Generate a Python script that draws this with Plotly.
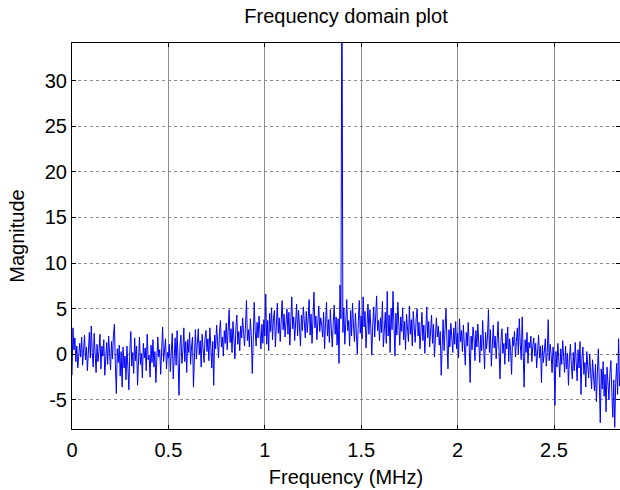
import numpy as np
import plotly.graph_objects as go

# frequency bin spacing (MHz) and magnitudes
df_mhz = 0.005
magnitude = [
    -2.3, 2.9, 0.5, 1.8, -0.8, 0.9, -1.5, 0.6, 1.2, -0.3, 1.9, -1.2, 0.4, 2.1, -0.6, 0.8, -1.8, 1.0, 2.4, -0.4,
    3.1, 0.2, -1.4, 2.3, 0.7, -2.0, 1.1, -0.8, 0.3, 2.2, -1.6, 0.9, -0.2, 1.6, -2.3, 0.5, 1.3, -1.1, 2.0, 0.1,
    -1.7, 1.4, -0.5, 2.1, 3.3, -1.2, -4.3, 0.6, -0.9, 1.0, -2.4, 0.3, -3.6, 0.8, -1.5, -0.2, -2.8, 0.9, -1.0, -3.9,
    0.4, 2.5, -1.3, 0.2, -2.1, 1.8, -0.7, 0.9, -3.4, 0.6, 1.9, -1.1, 0.1, -2.6, 1.2, -0.4, 0.7, -1.8, 2.2, -0.6,
    -0.1, -2.5, 1.0, -0.9, 1.6, -1.4, 0.3, -3.1, 0.8, 1.9, -0.3, 0.5, -2.2, 1.3, 3.0, -0.8, 0.4, 1.7, -1.6, 0.2,
    -0.4, 1.1, -1.9, 0.7, 2.3, -2.7, 0.5, 1.8, -1.2, 2.6, -0.6, -4.5, 0.9, 2.1, -1.0, 0.3, 2.9, -0.8, 1.4, -2.0,
    1.6, 0.2, 2.4, -1.1, 0.8, 1.9, -3.6, 0.5, 2.7, -0.5, 1.3, 2.8, 0.0, 1.5, -1.4, 2.2, 0.6, -0.9, 1.8, 2.6,
    0.3, 1.7, -0.7, 2.9, 0.9, -1.5, 1.4, -3.4, 2.1, 0.6, 3.2, 1.0, -0.4, 2.4, 3.7, 0.8, 1.9, -0.2, 2.6, 1.2,
    3.4, 0.5, 2.2, 4.9, 1.3, 2.8, 0.2, 3.6, 1.7, -0.5, 2.9, 4.3, 1.1, 2.5, 0.4, 3.1, 1.8, 4.0, 2.3, 0.9,
    3.2, 5.9, 1.5, 2.7, 0.8, 3.9, 2.1, -2.1, 1.4, 5.7, 2.6, 0.9, 3.5, 1.8, 4.2, 2.4, 0.6, 3.3, 1.2, 3.8,
    2.0, 6.6, 1.1, 3.7, 0.4, 4.5, 2.5, 5.1, 1.6, 3.9, 4.8, 0.8, 3.2, 5.6, 2.3, 4.0, 1.4, 3.6, 5.9, 2.7,
    4.4, 1.9, 3.1, 5.0, 2.2, 4.6, 1.0, 3.8, 6.3, 2.8, 4.1, 1.5, 3.4, 5.5, 2.0, 4.8, 3.0, 0.9, 4.3, 2.6,
    5.2, 3.3, 1.8, 4.7, 2.4, 3.9, 6.0, 2.1, 4.4, 1.2, 3.6, 6.8, 2.9, 4.2, 1.6, 3.0, 5.3, 2.5, 4.0, 3.2,
    1.9, 4.6, 0.6, 3.4, 5.7, 2.0, 3.8, 1.3, 4.9, 2.7, 0.8, 3.5, 5.4, 2.2, 4.1, 1.0, 3.9, -1.0, 7.6, 3.9,
    45.0,
    2.4, 5.1, 1.1, 4.3, 6.0, 2.6, 3.7, 0.9, 4.8, 2.0, 5.6, 3.1, 1.4, 4.5, 2.8, 0.0, 3.6, 5.9, 2.3,
    4.2, 1.7, 6.3, 3.0, 4.7, 0.7, 3.8, 5.5, 2.2, 4.9, 2.9, -0.1, 3.3, 5.2, 1.9, 4.4, 6.4, 2.6, 3.7, 1.5,
    4.0, 2.4, 5.8, 0.8, 3.4, 4.6, 1.2, 6.9, 2.0, 4.3, 0.2, 5.0, 2.7, 6.9, 3.2, -0.2, 4.5, 2.1, 5.7, 3.0,
    1.0, 4.1, 2.5, 5.1, 1.6, 3.6, 0.5, 4.4, 2.9, 1.4, 5.3, 2.2, 3.8, 0.9, 4.7, 2.6, 1.3, 3.9, 5.0, 2.0,
    3.5, 0.6, 2.8, 4.6, 1.5, 3.2, 0.1, 2.4, 5.2, 1.8, 3.6, 0.8, 2.9, 4.3, 1.2, 3.3, -0.3, 2.6, 4.0, 1.9,
    3.1, 1.0, 2.5, -2.3, 1.7, 3.8, 0.4, 2.2, 5.0, 1.3, -1.6, 2.7, 0.8, 3.4, 1.9, 0.2, 2.9, 1.1, 3.6, 0.6,
    2.3, -0.4, 3.9, 1.4, 2.6, 0.3, 3.2, 1.6, -1.2, 2.4, 0.9, 3.5, 1.2, -3.1, 2.0, 0.5, 3.0, 1.8, -0.7, 2.6,
    0.8, 3.3, 1.5, -0.9, 2.1, 0.4, 3.7, 1.0, -1.6, 2.4, 0.6, 1.9, 4.9, 0.2, 2.7, -1.3, 1.4, 3.2, 0.7, 2.0,
    -0.5, 1.8, 3.6, 0.3, -2.7, 1.5, 2.8, 0.1, 1.2, -1.1, 2.3, 0.6, 3.0, -0.8, 1.7, 0.4, -2.2, 1.9, 0.9, 2.5,
    -0.3, 1.4, 2.9, 0.0, 3.9, 1.1, -0.6, 4.1, 0.5, -3.6, 1.6, 0.2, 2.4, -1.0, 1.3, 0.7, 2.0, -0.8, 0.9, 1.8,
    -0.2, 1.2, -1.5, 0.6, 2.1, -0.4, 0.9, -3.1, 1.0, -0.9, 0.4, 1.7, -1.3, 0.2, 3.8, -0.7, 1.1, 0.0, -2.0, 0.8,
    -0.6, -5.6, 0.3, -1.4, 1.2, -0.8, -2.5, 0.6, -1.1, 1.5, -0.3, -2.0, 0.9, -1.6, 0.1, -3.4, -0.5, 1.1, -1.2, -2.7,
    0.2, -1.8, 1.3, -0.7, -2.9, 0.5, -1.5, 1.4, -4.4, -0.4, 0.8, -2.2, -0.9, -3.6, 0.3, -1.3, -2.6, 0.0, -1.9, -3.8,
    -0.6, -2.4, -4.0, -1.1, -5.2, -2.0, 0.6, -3.1, -7.5, -1.6, -3.8, -0.8, -4.6, -2.2, -6.3, -1.4, -3.5, -5.0, -2.1, -0.7,
    -4.2, -6.9, -2.8, -8.0, -3.2, -1.0, -4.4, 1.7, -3.5,
]
x_ticks = [0, 0.5, 1, 1.5, 2, 2.5]
x_tick_labels = ["0", "0.5", "1", "1.5", "2", "2.5"]
y_ticks = [-5, 0, 5, 10, 15, 20, 25, 30]
y_tick_labels = ["-5", "0", "5", "10", "15", "20", "25", "30"]

freq = np.arange(len(magnitude)) * df_mhz

FONT = "Liberation Sans, Arial, sans-serif"
FS = 20

fig = go.Figure()
fig.add_trace(go.Scatter(
    x=freq, y=magnitude, mode="lines",
    line=dict(color="#0000FF", width=1),
    hoverinfo="skip", showlegend=False,
))

axis_common = dict(
    showline=True, linecolor="black", linewidth=1, mirror="ticks",
    ticks="inside", ticklen=4, tickcolor="black", tickwidth=1,
    zeroline=False, automargin=False,
    tickfont=dict(family=FONT, size=FS, color="black"),
)

fig.update_layout(
    width=620, height=490,
    margin=dict(l=72, r=0, t=43, b=61),
    paper_bgcolor="white", plot_bgcolor="white",
    font=dict(family=FONT, size=FS, color="black"),
    title=dict(text="Frequency domain plot", x=346 / 620, xanchor="center",
               y=1 - 9 / 490, yanchor="top", yref="container",
               font=dict(family=FONT, size=FS, color="black")),
    xaxis=dict(
        range=[0, 548 / 192.8],
        tickvals=x_ticks, ticktext=x_tick_labels,
        ticklabelstandoff=3,
        showgrid=True, gridcolor="#8c8c8c", gridwidth=1,
        title=dict(text="Frequency (MHz)", standoff=9,
                   font=dict(family=FONT, size=FS, color="black")),
        **axis_common,
    ),
    yaxis=dict(
        range=[-8.19, 34.13],
        tickvals=y_ticks, ticktext=y_tick_labels,
        showgrid=True, gridcolor="#8c8c8c", gridwidth=1, griddash="dot",
        title=dict(text="Magnitude", standoff=14,
                   font=dict(family=FONT, size=FS, color="black")),
        **axis_common,
    ),
)

fig.write_html(
    "out.html",
    config={"displayModeBar": False},
    post_script="document.body.style.margin='0';document.body.style.padding='0';",
)
